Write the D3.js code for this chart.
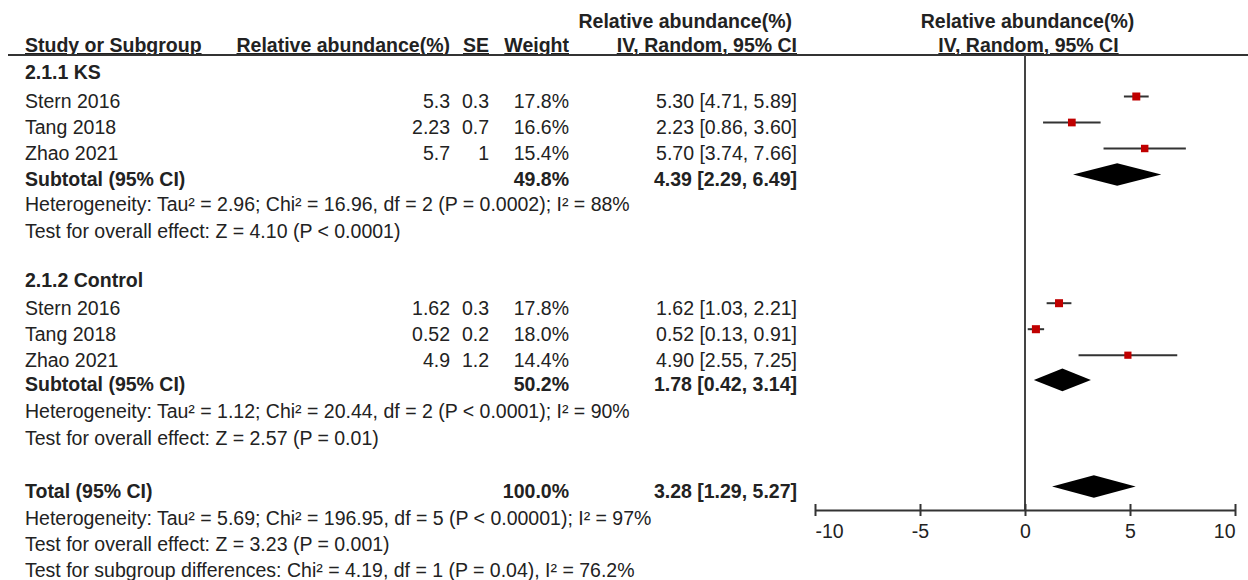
<!DOCTYPE html>
<html>
<head>
<meta charset="utf-8">
<script src="https://cdn.jsdelivr.net/npm/d3@7"></script>
<style>
  html, body { margin: 0; padding: 0; background: #fff; }
  svg text { font-family: "Liberation Sans", Arial, sans-serif; font-size: 19.5px; fill: #222; }
  svg text.b { font-weight: bold; }
</style>
</head>
<body>
<svg id="chart" width="1248" height="580"></svg>
<script>
// ---------------- data ----------------
const groupNames = ["2.1.1 KS", "2.1.2 Control"];
const studyNames = ["Stern 2016", "Tang 2018", "Zhao 2021", "Stern 2016", "Tang 2018", "Zhao 2021"];
const studyGroup = [0, 0, 0, 1, 1, 1];
const meanLabels = ["5.3", "2.23", "5.7", "1.62", "0.52", "4.9"];
const seLabels = ["0.3", "0.7", "1", "0.3", "0.2", "1.2"];
const weights = [17.8, 16.6, 15.4, 17.8, 18.0, 14.4];
const estimates = [5.30, 2.23, 5.70, 1.62, 0.52, 4.90];
const lowerCI = [4.71, 0.86, 3.74, 1.03, 0.13, 2.55];
const upperCI = [5.89, 3.60, 7.66, 2.21, 0.91, 7.25];
const subtotalWeights = [49.8, 50.2];
const subtotalEst = [4.39, 1.78];
const subtotalLower = [2.29, 0.42];
const subtotalUpper = [6.49, 3.14];
const hetTexts = [
  "Heterogeneity: Tau² = 2.96; Chi² = 16.96, df = 2 (P = 0.0002); I² = 88%",
  "Heterogeneity: Tau² = 1.12; Chi² = 20.44, df = 2 (P < 0.0001); I² = 90%"
];
const effectTexts = [
  "Test for overall effect: Z = 4.10 (P < 0.0001)",
  "Test for overall effect: Z = 2.57 (P = 0.01)"
];
const totalWeight = 100.0;
const totalEst = 3.28, totalLower = 1.29, totalUpper = 5.27;
const totalTexts = [
  "Heterogeneity: Tau² = 5.69; Chi² = 196.95, df = 5 (P < 0.00001); I² = 97%",
  "Test for overall effect: Z = 3.23 (P = 0.001)",
  "Test for subgroup differences: Chi² = 4.19, df = 1 (P = 0.04), I² = 76.2%"
];
const axisTicks = [-10, -5, 0, 5, 10];
const headerTop = "Relative abundance(%)";
const headerCols = ["Study or Subgroup", "Relative abundance(%)", "SE", "Weight", "IV, Random, 95% CI"];
const plotHeader = ["Relative abundance(%)", "IV, Random, 95% CI"];

// ---------------- layout ----------------
const svg = d3.select("#chart");
const x = d3.scaleLinear().domain([-10, 10]).range([815, 1235]);
const row = d3.scaleLinear().domain([0, 1]).range([108, 134]); // baseline of row index
const markOff = -11.5;
const colStudy = 25, colMean = 450, colSE = 489, colW = 569, colCI = 797;
const axisY = 510, ruleY = 55;
const sizeScale = d3.scaleSqrt().domain([0, 17.8]).range([0, 8]);
const fmt2 = d3.format(".2f");
const fmtW = d3.format(".1f");
const ciText = (e, l, u) => `${fmt2(e)} [${fmt2(l)}, ${fmt2(u)}]`;

function txt(xp, y, s, anchor, bold, underline) {
  const t = svg.append("text").attr("x", xp).attr("y", y).attr("text-anchor", anchor || "start").text(s);
  if (bold) t.classed("b", true);
  if (underline) t.style("text-decoration", "underline");
  return t;
}

// header
txt(792, 28, headerTop, "end", true);
txt(colStudy, 52, headerCols[0], "start", true, true);
txt(colMean, 52, headerCols[1], "end", true, true);
txt(colSE, 52, headerCols[2], "end", true, true);
txt(colW, 52, headerCols[3], "end", true, true);
txt(colCI, 52, headerCols[4], "end", true, true);
txt(1027.5, 28, plotHeader[0], "middle", true);
txt(1028.5, 52, plotHeader[1], "middle", true, true);

svg.append("line").attr("x1", 8).attr("x2", 1248).attr("y1", ruleY).attr("y2", ruleY)
  .attr("stroke", "#333").attr("stroke-width", 2);

// zero line
svg.append("line").attr("x1", x(0)).attr("x2", x(0)).attr("y1", ruleY).attr("y2", axisY)
  .attr("stroke", "#444").attr("stroke-width", 2);

// row indices per group
const groupRows = [
  { head: -1.12, studies: [0, 1, 2], sub: 3, het: 3.98, eff: 5 },
  { head: 6.88, studies: [7.95, 8.95, 9.95], sub: 10.9, het: 11.92, eff: 12.95 }
];
const totalRows = { total: 15, lines: [16.05, 17.05, 18.05] };

function diamond(est, lo, hi, yc) {
  const h = 11.3;
  svg.append("path")
    .attr("d", `M${x(lo)},${yc} L${x(est)},${yc - h} L${x(hi)},${yc} L${x(est)},${yc + h} Z`)
    .attr("fill", "#000");
}

groupNames.forEach((g, gi) => {
  const r = groupRows[gi];
  txt(colStudy, row(r.head), g, "start", true);
  const idx = studyGroup.map((d, i) => d === gi ? i : -1).filter(i => i >= 0);
  idx.forEach((si, k) => {
    const y = row(r.studies[k]);
    txt(colStudy, y, studyNames[si]);
    txt(colMean, y, meanLabels[si], "end");
    txt(colSE, y, seLabels[si], "end");
    txt(colW, y, fmtW(weights[si]) + "%", "end");
    txt(colCI, y, ciText(estimates[si], lowerCI[si], upperCI[si]), "end");
    const ym = y + markOff;
    svg.append("line").attr("x1", x(lowerCI[si])).attr("x2", x(upperCI[si]))
      .attr("y1", ym).attr("y2", ym).attr("stroke", "#333").attr("stroke-width", 2);
    const s = sizeScale(weights[si]);
    svg.append("rect").attr("x", x(estimates[si]) - s / 2).attr("y", ym - s / 2)
      .attr("width", s).attr("height", s).attr("fill", "#c00000");
  });
  const ys = row(r.sub);
  txt(colStudy, ys, "Subtotal (95% CI)", "start", true);
  txt(colW, ys, fmtW(subtotalWeights[gi]) + "%", "end", true);
  txt(colCI, ys, ciText(subtotalEst[gi], subtotalLower[gi], subtotalUpper[gi]), "end", true);
  diamond(subtotalEst[gi], subtotalLower[gi], subtotalUpper[gi], ys + markOff);
  txt(colStudy, row(r.het), hetTexts[gi]);
  txt(colStudy, row(r.eff), effectTexts[gi]);
});

const yt = row(totalRows.total);
txt(colStudy, yt, "Total (95% CI)", "start", true);
txt(colW, yt, fmtW(totalWeight) + "%", "end", true);
txt(colCI, yt, ciText(totalEst, totalLower, totalUpper), "end", true);
diamond(totalEst, totalLower, totalUpper, yt + markOff);
totalTexts.forEach((t, i) => txt(colStudy, row(totalRows.lines[i]), t));

// axis
const axis = d3.axisBottom(x).tickValues(axisTicks).tickSize(6).tickSizeOuter(0).tickFormat(d3.format("d"));
const ag = svg.append("g").attr("transform", `translate(0,${axisY})`).call(axis);
ag.select(".domain").attr("stroke", "#333").attr("stroke-width", 2);
ag.selectAll(".tick line").attr("stroke", "#333").attr("stroke-width", 2).attr("y1", -6).attr("y2", 6);
ag.selectAll(".tick text")
  .attr("y", 28).attr("dy", 0)
  .style("font-family", '"Liberation Sans", Arial, sans-serif').style("font-size", "19.5px").style("fill", "#222")
  .attr("text-anchor", d => d === axisTicks[0] ? "start" : (d === axisTicks[axisTicks.length - 1] ? "end" : "middle"))
  .text(d => d < 0 ? "-" + Math.abs(d) : String(d));
</script>
</body>
</html>
